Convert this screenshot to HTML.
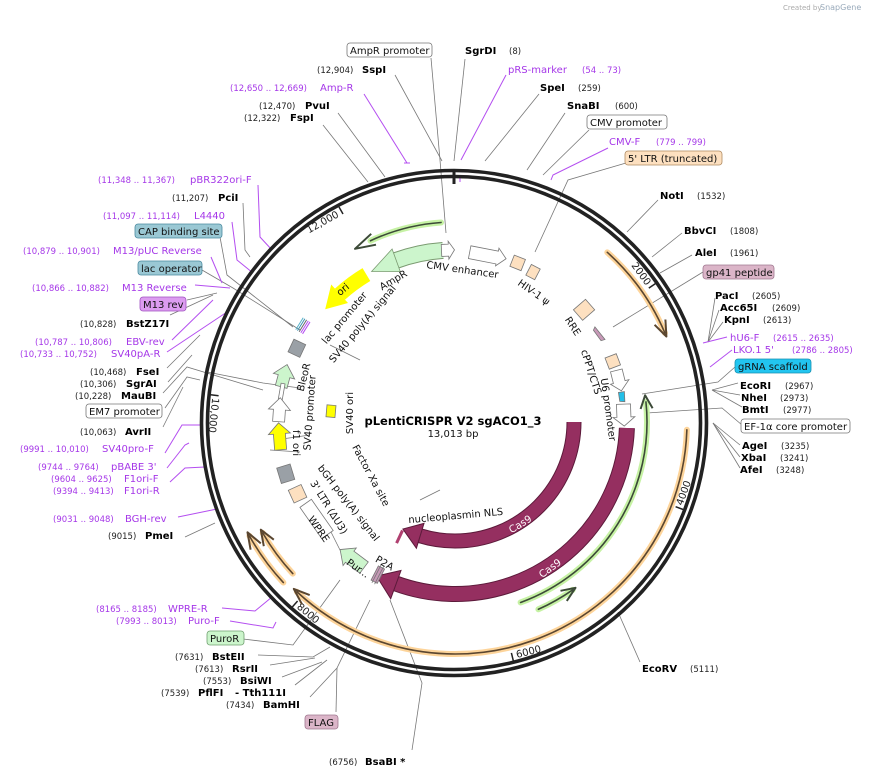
<!DOCTYPE html>
<html><head><meta charset="utf-8"><style>
html,body{margin:0;padding:0;background:#fff;}
svg{display:block;font-family:"DejaVu Sans","Liberation Sans",sans-serif;}
.n{font-size:8.5px;fill:#222;}
.b{font-size:10px;font-weight:bold;fill:#000;}
.p{font-size:10px;fill:#a537e8;}
.pn{font-size:8.5px;fill:#a537e8;}
.f{font-size:10px;fill:#111;}
.l{stroke:#777;stroke-width:0.8;fill:none;}
.lp{stroke:#b44ef0;stroke-width:1;fill:none;}
</style></head><body>
<svg width="881" height="777" viewBox="0 0 881 777" xmlns="http://www.w3.org/2000/svg">
<rect width="881" height="777" fill="#fff"/>
<text x="783" y="10" style="font-size:7px;fill:#aaa">Created by</text>
<text x="820" y="10" style="font-size:8px;fill:#9ab">SnapGene</text>

<g class="l">
<polyline points="431,58 440,160 446,233"/>
<polyline points="465,59 454,161"/>
<polyline points="395,75 442,161"/>
<polyline points="539,94 485,161"/>
<polyline points="338,113 385,177"/>
<polyline points="565,113 527,170"/>
<polyline points="323,125 368,182"/>
<polyline points="589,130 543,175"/>
<polyline points="626,163 568,180 535,252"/>
<polyline points="658,200 627,232"/>
<polyline points="682,233 652,257"/>
<polyline points="692,255 660,273"/>
<polyline points="703,272 613,327"/>
<polyline points="715,298 708,342"/><polyline points="719,310 708,342"/><polyline points="723,322 708,342"/>
<polyline points="735,367 718,382 642,394"/>
<polyline points="738,383 712,390"/><polyline points="740,395 712,390"/><polyline points="742,407 712,390"/>
<polyline points="742,425 722,408 647,413"/>
<polyline points="740,445 713,423"/><polyline points="740,457 713,423"/><polyline points="740,468 713,423"/>
<polyline points="640,662 618,612"/>
<polyline points="243,203 245,250 250,257"/>
<polyline points="220,237 227,275 293,327"/>
<polyline points="202,270 233,288 300,330"/>
<polyline points="187,300 217,293"/>
<polyline points="170,315 213,295"/>
<polyline points="167,368 200,335"/>
<polyline points="168,382 192,355"/>
<polyline points="163,393 187,367 263,390"/>
<polyline points="165,408 187,377 200,380"/>
<polyline points="163,427 183,387"/>
<polyline points="185,537 215,523"/>
<polyline points="243,639 293,645 340,580"/>
<polyline points="258,655 313,657 330,647"/>
<polyline points="270,665 315,658"/>
<polyline points="282,677 322,662"/>
<polyline points="295,685 327,660"/>
<polyline points="310,697 337,668 370,600"/>
<polyline points="336,712 337,668"/>
<polyline points="412,750 422,683 390,600"/>
<polyline points="300,388 263,383 207,372"/>
<polyline points="270,450 300,452"/>
<polyline points="275,440 310,435"/>
<polyline points="330,345 360,360"/>
<polyline points="345,560 330,530"/>
<polyline points="420,500 440,490"/>
</g>
<g class="lp">
<polyline points="506,75 461,160"/><line x1="460" y1="178" x2="460" y2="182"/>
<polyline points="364,94 407,163"/><line x1="404" y1="163" x2="410" y2="163"/>
<polyline points="608,148 553,175 551,180"/>
<polyline points="727,337 703,343"/>
<polyline points="732,350 710,367"/>
<polyline points="258,185 260,237 272,250"/>
<polyline points="232,222 237,260 253,273"/>
<polyline points="211,257 222,283"/>
<polyline points="195,285 230,288"/>
<polyline points="172,340 213,300"/>
<polyline points="167,352 230,310"/>
<polyline points="165,453 182,425 203,425"/>
<polyline points="167,468 185,445 189,443"/>
<polyline points="170,482 185,468 205,467"/>
<polyline points="178,517 217,509"/>
<polyline points="222,608 255,611 272,597"/>
<polyline points="230,621 273,628 276,622"/>
</g>

<circle cx="454" cy="423" r="252.5" fill="none" stroke="#222" stroke-width="3.6"/>
<circle cx="454" cy="423" r="246.5" fill="none" stroke="#222" stroke-width="3.6"/>
<line x1="454" y1="171" x2="454" y2="184" stroke="#222" stroke-width="3"/>
<g stroke="#222" stroke-width="1.5">
<line x1="339" y1="207" x2="343" y2="214"/>
<line x1="655.4" y1="283.6" x2="648.8" y2="288.1"/>
<line x1="683.1" y1="509.5" x2="675.6" y2="506.7"/>
<line x1="513.3" y1="660.7" x2="511.4" y2="652.9"/>
<line x1="292.3" y1="607" x2="297.6" y2="601"/>
<line x1="210.6" y1="394.8" x2="218.6" y2="395.7"/>
</g>
<g style="font-size:10px;fill:#222">
<text x="339.5" y="216.5" text-anchor="end" transform="rotate(-29 339.5 216.5)">12,000</text>
<text x="646" y="286" text-anchor="end" transform="rotate(54 646 286)">2000</text>
<text x="682.4" y="506" transform="rotate(-70 682.4 506)">4000</text>
<text x="517" y="658" transform="rotate(-14 517 658)">6000</text>
<text x="296.3" y="607.7" transform="rotate(40 296.3 607.7)">8000</text>
<text x="212.3" y="397.6" transform="rotate(96 212.3 397.6)">10,000</text>
</g>

<g fill="none" stroke-linecap="round">
<circle cx="455" cy="422" r="228" stroke="#fdd49a" stroke-width="6" pathLength="360" stroke-dasharray="25 335" transform="rotate(-48 455 422)"/>
<circle cx="455" cy="422" r="228" stroke="#5a4630" stroke-width="1.6" pathLength="360" stroke-dasharray="25 335" transform="rotate(-48 455 422)"/>
<circle cx="455" cy="422" r="232" stroke="#fdd49a" stroke-width="6" pathLength="360" stroke-dasharray="131 229" transform="rotate(2 455 422)"/>
<circle cx="455" cy="422" r="232" stroke="#5a4630" stroke-width="1.6" pathLength="360" stroke-dasharray="131 229" transform="rotate(2 455 422)"/>
<circle cx="455" cy="422" r="235" stroke="#fdd49a" stroke-width="6" pathLength="360" stroke-dasharray="14 346" transform="rotate(137 455 422)"/>
<circle cx="455" cy="422" r="235" stroke="#5a4630" stroke-width="1.6" pathLength="360" stroke-dasharray="14 346" transform="rotate(137 455 422)"/>
<circle cx="455" cy="422" r="222" stroke="#fdd49a" stroke-width="6" pathLength="360" stroke-dasharray="13 347" transform="rotate(137 455 422)"/>
<circle cx="455" cy="422" r="222" stroke="#5a4630" stroke-width="1.6" pathLength="360" stroke-dasharray="13 347" transform="rotate(137 455 422)"/>
<circle cx="455" cy="422" r="192" stroke="#c6f2a4" stroke-width="6" pathLength="360" stroke-dasharray="76 284" transform="rotate(-6 455 422)"/>
<circle cx="455" cy="422" r="192" stroke="#3c4a38" stroke-width="1.6" pathLength="360" stroke-dasharray="76 284" transform="rotate(-6 455 422)"/>
<circle cx="455" cy="422" r="205" stroke="#c6f2a4" stroke-width="6" pathLength="360" stroke-dasharray="11 349" transform="rotate(55 455 422)"/>
<circle cx="455" cy="422" r="205" stroke="#3c4a38" stroke-width="1.6" pathLength="360" stroke-dasharray="11 349" transform="rotate(55 455 422)"/>
<circle cx="455" cy="422" r="200" stroke="#c6f2a4" stroke-width="6" pathLength="360" stroke-dasharray="21 339" transform="rotate(245 455 422)"/>
<circle cx="455" cy="422" r="200" stroke="#3c4a38" stroke-width="1.6" pathLength="360" stroke-dasharray="21 339" transform="rotate(245 455 422)"/>
</g>
<g fill="none" stroke-width="2" stroke-linejoin="round">
<polyline points="654.6,324.8 666.4,336.5 665.4,319.5" stroke="#5a4630"/>
<polyline points="309.7,595.1 293.8,588.9 302,604.3" stroke="#5a4630"/>
<polyline points="260.8,543.4 247.5,532.3 250.6,549.7" stroke="#5a4630"/>
<polyline points="273.8,539.7 260.8,529.7 263.8,546.2" stroke="#5a4630"/>
<polyline points="640.6,409 645.1,395.3 652.6,408.2" stroke="#3c4a38"/>
<polyline points="560.5,590.8 575.5,587.8 566.8,600.9" stroke="#3c4a38"/>
<polyline points="376,244.7 355,248.8 371.2,233.8" stroke="#3c4a38"/>
</g>

<g fill="none">
<circle cx="455" cy="422" r="172" stroke="#5c1a3a" stroke-width="16" pathLength="360" stroke-dasharray="108 252" transform="rotate(2 455 422)"/>
<circle cx="455" cy="422" r="172" stroke="#952f60" stroke-width="14" pathLength="360" stroke-dasharray="108 252" transform="rotate(2 455 422)"/>
<circle cx="455" cy="422" r="119" stroke="#5c1a3a" stroke-width="15" pathLength="360" stroke-dasharray="107 253" transform="rotate(0 455 422)"/>
<circle cx="455" cy="422" r="119" stroke="#952f60" stroke-width="13" pathLength="360" stroke-dasharray="107 253" transform="rotate(0 455 422)"/>
</g>
<polygon points="401,570.5 390.7,598.7 376.5,576" fill="#952f60" stroke="#5c1a3a"/>
<polygon points="424,523.4 416.4,548.2 402.9,529" fill="#952f60" stroke="#5c1a3a"/>
<rect x="398" y="530" width="3" height="14" fill="#b04070" transform="rotate(25 400 537)"/>
<text x="522" y="527" transform="rotate(-32 522 527)" style="font-size:10px;fill:#fff" text-anchor="middle">Cas9</text>
<text x="552" y="571" transform="rotate(-36 552 571)" style="font-size:10px;fill:#fff" text-anchor="middle">Cas9</text>

<circle cx="455" cy="422" r="172" fill="none" stroke="#7a9a70" stroke-width="17" pathLength="360" stroke-dasharray="16 344" transform="rotate(250 455 422)"/>
<circle cx="455" cy="422" r="172" fill="none" stroke="#ccf5cc" stroke-width="15" pathLength="360" stroke-dasharray="16 344" transform="rotate(250 455 422)"/>
<polygon points="400.3,271.6 392.1,249 371.6,271.5" fill="#ccf5cc" stroke="#7a9a70" stroke-width="0.8"/>
<circle cx="455" cy="422" r="172" fill="none" stroke="#ffff00" stroke-width="15" pathLength="360" stroke-dasharray="11 349" transform="rotate(228 455 422)"/>
<polygon points="348,303 331.2,284.5 325.2,309.2" fill="#ffff00"/>
<text x="345" y="292" transform="rotate(-40 345 292)" class="f" text-anchor="middle">ori</text>

<g stroke="#777" stroke-width="0.8">
<g transform="rotate(357.5 455 422)"><polygon points="449,244 456,244 456,241 462,250 456,259 456,256 449,256" fill="#fff"/></g>
<g transform="rotate(11 455 422)"><polygon points="437,246 465,246 465,243 474,252 465,261 465,259 437,259" fill="#fff"/></g>
<g transform="rotate(21.5 455 422)"><rect x="449" y="245" width="12" height="12" fill="#fde0c0"/></g>
<g transform="rotate(27.5 455 422)"><rect x="450" y="247" width="10" height="12" fill="#fde0c0"/></g>
<g transform="rotate(49 455 422)"><rect x="448" y="243" width="14" height="16" fill="#fde0c0"/></g>
<g transform="rotate(58.5 455 422)"><polygon points="447,253 463,251 462,255 449,256" fill="#c899b8"/></g>
<g transform="rotate(69 455 422)"><rect x="449" y="247" width="12" height="12" fill="#fde0c0"/></g>
<g transform="rotate(76 455 422)"><polygon points="444,247 456,247 456,243 465,253 456,262 456,259 444,259" fill="#fff"/></g>
<g transform="rotate(81.5 455 422)"><polygon points="450,250 460,251 459,256 450,256" fill="#22bfe8"/></g>
<g transform="rotate(88 455 422)"><polygon points="443,246 456,246 456,242 465,253 456,264 456,260 443,260" fill="#fff"/></g>
<g transform="rotate(295 455 422)"><rect x="448" y="241" width="14" height="13" fill="#9aa0a6"/></g>
<g transform="rotate(285 455 422)"><polygon points="444,239 455,239 455,234 467,245 455,256 455,251 444,251" fill="#ccf5cc"/></g>
<g transform="rotate(280 455 422)"><rect x="447" y="244" width="16" height="4" fill="#fff"/></g>
<g transform="rotate(274 455 422)"><polygon points="443,240 455,240 455,235 467,246 455,257 455,252 443,252" fill="#fff"/></g>
<g transform="rotate(265.5 455 422)"><polygon points="441,240 457,240 457,235 468,246 457,257 457,252 441,252" fill="#ffff00"/></g>
<g transform="rotate(253 455 422)"><rect x="447" y="238" width="16" height="14" fill="#9aa0a6"/></g>
<g transform="rotate(245.5 455 422)"><rect x="448" y="242" width="14" height="14" fill="#fde0c0"/></g>
<g transform="rotate(235 455 422)"><rect x="436" y="246" width="38" height="14" fill="#fff"/></g>
<g transform="rotate(217 455 422)"><polygon points="440,244 458,244 458,240 470,251 458,262 458,258 440,258" fill="#ccf5cc"/></g>
<g transform="rotate(207 455 422)"><rect x="451" y="243" width="7" height="16" fill="#c899b8"/><line x1="453" y1="241" x2="453" y2="262"/><line x1="456" y1="241" x2="456" y2="262"/></g>
<g transform="rotate(275 455 422)"><rect x="449" y="293" width="12" height="9" fill="#ffff00"/></g>
</g>
<g transform="rotate(302 455 422)" stroke-width="1">
<line x1="449" y1="238" x2="463" y2="238" stroke="#55b0c8"/>
<line x1="449" y1="240" x2="463" y2="240" stroke="#3a8fb0"/>
<line x1="449" y1="242" x2="463" y2="242" stroke="#666"/>
<line x1="449" y1="244" x2="463" y2="244" stroke="#b44ef0"/>
<line x1="449" y1="246" x2="463" y2="246" stroke="#b44ef0"/>
</g>

<g class="f" text-anchor="middle">
<text x="462" y="273" transform="rotate(8 462 273)">CMV enhancer</text>
<text x="395" y="283" transform="rotate(-30 395 283)">AmpR</text>
<text x="532" y="295" transform="rotate(35 532 295)">HIV-1 ψ</text>
<text x="570" y="328" transform="rotate(57 570 328)">RRE</text>
<text x="347" y="320" transform="rotate(-50 347 320)">lac promoter</text>
<text x="365" y="326" transform="rotate(-50 365 326)">SV40 poly(A) signal</text>
<text x="588" y="373" transform="rotate(72 588 373)">cPPT/CTS</text>
<text x="605" y="410" transform="rotate(82 605 410)">U6 promoter</text>
<text x="307" y="378" transform="rotate(-76 307 378)">BleoR</text>
<text x="313" y="413" transform="rotate(-86 313 413)">SV40 promoter</text>
<text x="293" y="443" transform="rotate(90 293 443)">f1 ori</text>
<text x="353" y="413" transform="rotate(-90 353 413)">SV40 ori</text>
<text x="368" y="477" transform="rotate(62 368 477)">Factor Xa site</text>
<text x="346" y="505" transform="rotate(52 346 505)">bGH poly(A) signal</text>
<text x="326" y="509" transform="rotate(58 326 509)">3' LTR (ΔU3)</text>
<text x="316" y="531" transform="rotate(55 316 531)">WPRE</text>
<text x="356" y="571" transform="rotate(35 356 571)">Pur...</text>
<text x="383" y="566" transform="rotate(30 383 566)">P2A</text>
<text x="456" y="519" transform="rotate(-5 456 519)">nucleoplasmin NLS</text>
</g>
<text x="453" y="425" text-anchor="middle" style="font-size:11.5px;font-weight:bold;fill:#000">pLentiCRISPR V2 sgACO1_3</text>
<text x="453" y="437" text-anchor="middle" style="font-size:10px;fill:#111">13,013 bp</text>

<g stroke-width="0.8">
<rect x="347" y="43" width="85" height="14" rx="3" fill="#fff" stroke="#777"/>
<rect x="587" y="115" width="80" height="14" rx="3" fill="#fff" stroke="#777"/>
<rect x="625" y="151" width="97" height="14" rx="3" fill="#fde0c0" stroke="#b08a60"/>
<rect x="703" y="265" width="71" height="14" rx="3" fill="#dbb5c8" stroke="#a07890"/>
<rect x="735" y="359" width="76" height="14" rx="3" fill="#22c5f0" stroke="#1890b0"/>
<rect x="741" y="419" width="109" height="14" rx="3" fill="#fff" stroke="#777"/>
<rect x="135" y="224" width="87" height="14" rx="3" fill="#9ac8d4" stroke="#4a8aa0"/>
<rect x="138" y="261" width="64" height="14" rx="3" fill="#9ac8d4" stroke="#4a8aa0"/>
<rect x="140" y="297" width="46" height="14" rx="3" fill="#dc9cf0" stroke="#a050c0"/>
<rect x="86" y="404" width="76" height="14" rx="3" fill="#fff" stroke="#777"/>
<rect x="207" y="631" width="37" height="14" rx="3" fill="#ccf5cc" stroke="#70a070"/>
<rect x="305" y="715" width="33" height="14" rx="3" fill="#dbb5c8" stroke="#a07890"/>
</g>
<g class="f">
<text x="350" y="54">AmpR promoter</text>
<text x="590" y="126">CMV promoter</text>
<text x="628" y="162">5' LTR (truncated)</text>
<text x="706" y="276">gp41 peptide</text>
<text x="738" y="370">gRNA scaffold</text>
<text x="744" y="430">EF-1α core promoter</text>
<text x="138" y="235">CAP binding site</text>
<text x="141" y="272">lac operator</text>
<text x="143" y="308">M13 rev</text>
<text x="89" y="415">EM7 promoter</text>
<text x="210" y="642">PuroR</text>
<text x="308" y="726">FLAG</text>
</g>

<g>
<text class="b" x="465" y="54">SgrDI</text><text class="n" x="509" y="54">(8)</text>
<text class="n" x="317" y="73">(12,904)</text><text class="b" x="362" y="73">SspI</text>
<text class="p" x="508" y="73">pRS-marker</text><text class="pn" x="582" y="73">(54 .. 73)</text>
<text class="pn" x="230" y="91">(12,650 .. 12,669)</text><text class="p" x="320" y="91">Amp-R</text>
<text class="b" x="540" y="91">SpeI</text><text class="n" x="578" y="91">(259)</text>
<text class="n" x="259" y="109">(12,470)</text><text class="b" x="305" y="109">PvuI</text>
<text class="b" x="567" y="109">SnaBI</text><text class="n" x="615" y="109">(600)</text>
<text class="n" x="244" y="121">(12,322)</text><text class="b" x="290" y="121">FspI</text>
<text class="p" x="609" y="145">CMV-F</text><text class="pn" x="656" y="145">(779 .. 799)</text>

<text class="b" x="660" y="199">NotI</text><text class="n" x="697" y="199">(1532)</text>
<text class="b" x="684" y="234">BbvCI</text><text class="n" x="730" y="234">(1808)</text>
<text class="b" x="695" y="256">AleI</text><text class="n" x="730" y="256">(1961)</text>
<text class="b" x="715" y="299">PacI</text><text class="n" x="752" y="299">(2605)</text>
<text class="b" x="720" y="311">Acc65I</text><text class="n" x="772" y="311">(2609)</text>
<text class="b" x="724" y="323">KpnI</text><text class="n" x="763" y="323">(2613)</text>
<text class="p" x="730" y="341">hU6-F</text><text class="pn" x="773" y="341">(2615 .. 2635)</text>
<text class="p" x="733" y="353">LKO.1 5'</text><text class="pn" x="792" y="353">(2786 .. 2805)</text>
<text class="b" x="740" y="389">EcoRI</text><text class="n" x="785" y="389">(2967)</text>
<text class="b" x="741" y="401">NheI</text><text class="n" x="780" y="401">(2973)</text>
<text class="b" x="742" y="413">BmtI</text><text class="n" x="783" y="413">(2977)</text>
<text class="b" x="742" y="449">AgeI</text><text class="n" x="781" y="449">(3235)</text>
<text class="b" x="741" y="461">XbaI</text><text class="n" x="780" y="461">(3241)</text>
<text class="b" x="740" y="473">AfeI</text><text class="n" x="776" y="473">(3248)</text>
<text class="b" x="642" y="672">EcoRV</text><text class="n" x="690" y="672">(5111)</text>

<text class="pn" x="98" y="183">(11,348 .. 11,367)</text><text class="p" x="190" y="183">pBR322ori-F</text>
<text class="n" x="172" y="201">(11,207)</text><text class="b" x="218" y="201">PciI</text>
<text class="pn" x="103" y="219">(11,097 .. 11,114)</text><text class="p" x="194" y="219">L4440</text>
<text class="pn" x="23" y="254">(10,879 .. 10,901)</text><text class="p" x="113" y="254">M13/pUC Reverse</text>
<text class="pn" x="32" y="291">(10,866 .. 10,882)</text><text class="p" x="122" y="291">M13 Reverse</text>
<text class="n" x="80" y="327">(10,828)</text><text class="b" x="126" y="327">BstZ17I</text>
<text class="pn" x="35" y="345">(10,787 .. 10,806)</text><text class="p" x="126" y="345">EBV-rev</text>
<text class="pn" x="20" y="357">(10,733 .. 10,752)</text><text class="p" x="111" y="357">SV40pA-R</text>
<text class="n" x="90" y="375">(10,468)</text><text class="b" x="136" y="375">FseI</text>
<text class="n" x="80" y="387">(10,306)</text><text class="b" x="126" y="387">SgrAI</text>
<text class="n" x="75" y="399">(10,228)</text><text class="b" x="121" y="399">MauBI</text>
<text class="n" x="80" y="435">(10,063)</text><text class="b" x="125" y="435">AvrII</text>
<text class="pn" x="20" y="452">(9991 .. 10,010)</text><text class="p" x="102" y="452">SV40pro-F</text>
<text class="pn" x="38" y="470">(9744 .. 9764)</text><text class="p" x="111" y="470">pBABE 3'</text>
<text class="pn" x="51" y="482">(9604 .. 9625)</text><text class="p" x="124" y="482">F1ori-F</text>
<text class="pn" x="53" y="494">(9394 .. 9413)</text><text class="p" x="124" y="494">F1ori-R</text>
<text class="pn" x="53" y="522">(9031 .. 9048)</text><text class="p" x="125" y="522">BGH-rev</text>
<text class="n" x="108" y="539">(9015)</text><text class="b" x="145" y="539">PmeI</text>

<text class="pn" x="96" y="612">(8165 .. 8185)</text><text class="p" x="168" y="612">WPRE-R</text>
<text class="pn" x="116" y="624">(7993 .. 8013)</text><text class="p" x="188" y="624">Puro-F</text>
<text class="n" x="175" y="660">(7631)</text><text class="b" x="212" y="660">BstEII</text>
<text class="n" x="195" y="672">(7613)</text><text class="b" x="232" y="672">RsrII</text>
<text class="n" x="203" y="684">(7553)</text><text class="b" x="240" y="684">BsiWI</text>
<text class="n" x="161" y="696">(7539)</text><text class="b" x="198" y="696">PflFI</text><text class="b" x="235" y="696">- Tth111I</text>
<text class="n" x="226" y="708">(7434)</text><text class="b" x="263" y="708">BamHI</text>
<text class="n" x="329" y="765">(6756)</text><text class="b" x="365" y="765">BsaBI *</text>
</g>
</svg>
</body></html>
